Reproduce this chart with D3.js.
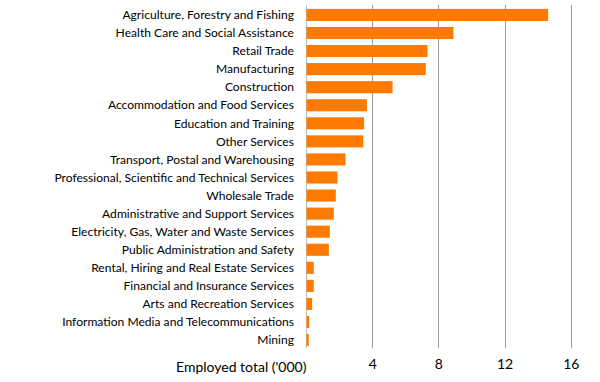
<!DOCTYPE html>
<html>
<head>
<meta charset="utf-8">
<script src="https://cdn.jsdelivr.net/npm/d3@7"></script>
<style>
body{margin:0;background:#fff;}
svg text{font-family:Lato,sans-serif;fill:#000;}
</style>
</head>
<body>
<svg class="barChart" width="600" height="382"></svg>
<script>
var industries = [
	'Agriculture, Forestry and Fishing',
	'Health Care and Social Assistance',
	'Retail Trade',
	'Manufacturing',
	'Construction',
	'Accommodation and Food Services',
	'Education and Training',
	'Other Services',
	'Transport, Postal and Warehousing',
	'Professional, Scientific and Technical Services',
	'Wholesale Trade',
	'Administrative and Support Services',
	'Electricity, Gas, Water and Waste Services',
	'Public Administration and Safety',
	'Rental, Hiring and Real Estate Services',
	'Financial and Insurance Services',
	'Arts and Recreation Services',
	'Information Media and Telecommunications',
	'Mining'
];
var employed = [14.6, 8.88, 7.31, 7.21, 5.2, 3.65, 3.48, 3.43, 2.36, 1.87, 1.77, 1.65, 1.41, 1.35, 0.44, 0.44, 0.34, 0.16, 0.14];
var ticks = [4, 8, 12, 16];
var axisTitle = "Employed total ('000)";

var data = industries.map((d,i)=>({x:d, y:employed[i]}));

var config = {
	left : 306,
	top : 6,
	bottom : 349,
	gridTop : 5,
	gridBottom : 348,
	color : '#ff7a00'
};

var svg = d3.select('.barChart');

var xScale = d3.scaleLinear()
				.domain([0,16])
				.range([config.left, config.left + 4*66.2]);

var yScale = d3.scaleBand()
				.domain(industries)
				.range([config.top, config.bottom])
				.paddingInner(0.33)
				.paddingOuter(0.16);

// gridlines
svg.append('g')
	.selectAll('line')
	.data(ticks)
	.enter()
	.append('line')
	.attr('x1',d=>Math.round(xScale(d))+0.5)
	.attr('x2',d=>Math.round(xScale(d))+0.5)
	.attr('y1',config.gridTop)
	.attr('y2',config.gridBottom)
	.attr('stroke','#9a9a9a')
	.attr('stroke-width',1);

// zero axis
svg.append('line')
	.attr('x1',Math.round(xScale(0))+0.5)
	.attr('x2',Math.round(xScale(0))+0.5)
	.attr('y1',config.gridTop)
	.attr('y2',config.gridBottom)
	.attr('stroke','#bbbbbb')
	.attr('stroke-width',1);

// bars
svg.append('g')
	.selectAll('rect')
	.data(data)
	.enter()
	.append('rect')
	.attr('x',xScale(0)+0.5)
	.attr('y',d=>yScale(d.x))
	.attr('width',d=>xScale(d.y)-xScale(0))
	.attr('height',yScale.bandwidth())
	.attr('fill',config.color);

// category labels
svg.append('g')
	.selectAll('text')
	.data(data)
	.enter()
	.append('text')
	.text(d=>d.x)
	.attr('x',294)
	.attr('y',d=>yScale(d.x)+yScale.bandwidth()/2)
	.attr('dy','0.35em')
	.attr('text-anchor','end')
	.attr('font-size',12.1);

// x axis labels
var xAxisGen = d3.axisBottom(xScale).tickValues(ticks).tickSize(0).tickPadding(0);
var xAxis = svg.append('g')
	.attr('transform','translate(0,'+(config.gridBottom+11)+')')
	.call(xAxisGen);
xAxis.select('.domain').remove();
xAxis.selectAll('text')
	.attr('font-size',14)
	.attr('font-family','Lato,sans-serif')
	.attr('fill','#000');

svg.append('text')
	.text(axisTitle)
	.attr('x',176)
	.attr('y',367)
	.attr('dy','0.35em')
	.attr('font-size',14);
</script>
</body>
</html>
